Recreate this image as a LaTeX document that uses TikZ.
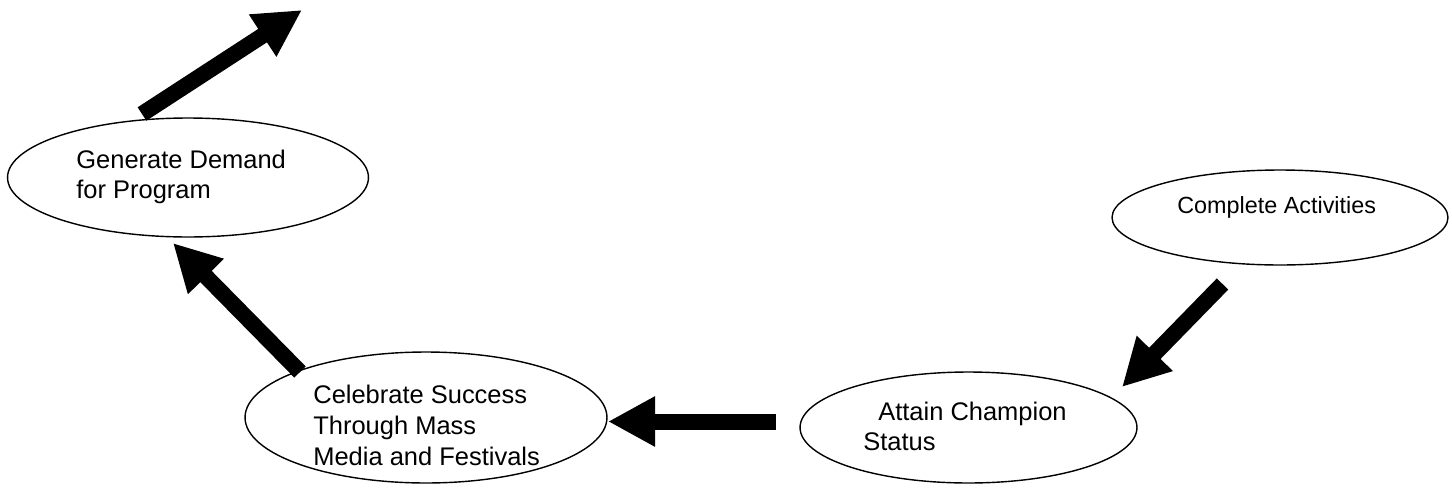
\documentclass[tikz,border=0pt]{standalone}
\usepackage{fontspec}
\setmainfont{Liberation Sans}
\usetikzlibrary{shapes.geometric,arrows.meta}
\begin{document}
\begin{tikzpicture}[x=0.02cm,y=-0.02cm,
  oval/.style={draw=black,line width=0.8pt,ellipse,inner sep=0pt},
  lbl/.style={anchor=base west,inner sep=0pt,align=left,font=\fontsize{14.5}{17}\selectfont},
  flow/.style={line width=0.32cm,-{Triangle[length=0.94cm,width=0.94cm]}}]
\useasboundingbox (0,0) rectangle (1452,494);
% ellipses
\node[oval,minimum width=7.22cm,minimum height=2.38cm] (gen) at (188,177.5) {};
\node[oval,minimum width=6.72cm,minimum height=1.9cm] (comp) at (1280,217.5) {};
\node[oval,minimum width=7.24cm,minimum height=2.62cm] (cel) at (426,417.5) {};
\node[oval,minimum width=6.74cm,minimum height=2.22cm] (att) at (968.5,427.5) {};
% texts (anchored at the baseline of the last line)
\node[lbl] (gent) at (76,198) {Generate Demand\\for Program};
\node[lbl,font=\fontsize{13.3}{16}\selectfont] (compt) at (1177,213) {Complete Activities};
\node[lbl,font=\fontsize{14.5}{17.6}\selectfont] (celt) at (313,465) {Celebrate Success\\Through Mass\\Media and Festivals};
\node[lbl] (attt) at (863,450) {\hspace*{8.5pt}Attain Champion\\Status};
% arrow end points
\coordinate (genout) at (142,114);
\coordinate (gentip) at (302,10);
\coordinate (compout) at (1222.5,284);
\coordinate (atttip) at (1122,387);
\coordinate (attout) at (776,421.5);
\coordinate (celtip) at (608,421.5);
\coordinate (celout) at (300,372);
\coordinate (gentarget) at (173,243);
% arrows
\draw[flow] (genout) -- (gentip);
\draw[flow] (compout) -- (atttip);
\draw[flow] (attout) -- (celtip);
\draw[flow] (celout) -- (gentarget);
\end{tikzpicture}
\end{document}
